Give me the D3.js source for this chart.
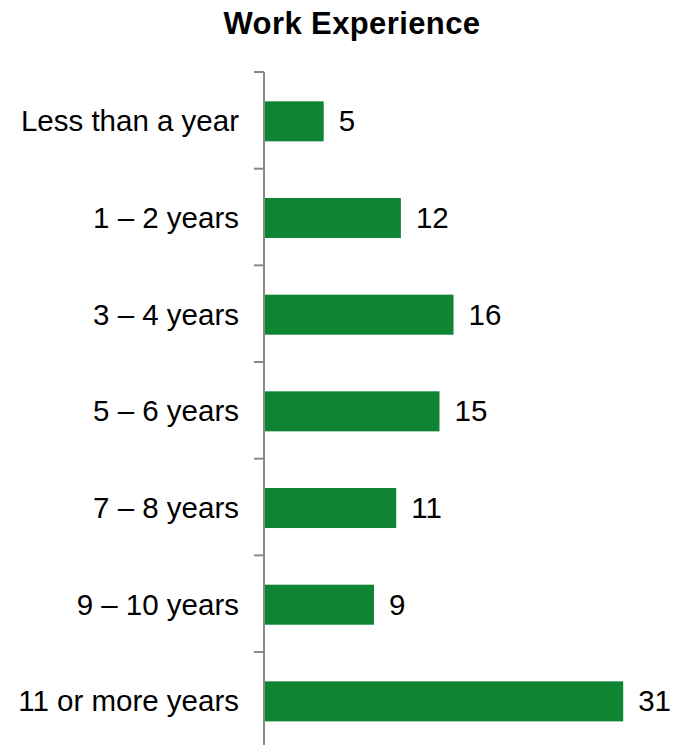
<!DOCTYPE html>
<html>
<head>
<meta charset="utf-8">
<script src="https://cdn.jsdelivr.net/npm/d3@7"></script>
<style>
  body { margin: 0; background: #fff; }
  text { font-family: "Liberation Sans", Arial, sans-serif; fill: #000; }
</style>
</head>
<body>
<svg id="chart" width="684" height="745"></svg>
<script>
// categories and values (percent)
const categories = ["Less than a year", "1 \u2013 2 years", "3 \u2013 4 years", "5 \u2013 6 years",
                    "7 \u2013 8 years", "9 \u2013 10 years", "11 or more years"];
const values = [5.1, 11.7, 16.2, 15.0, 11.3, 9.4, 30.7];
const title = "Work Experience";

const data = categories.map((c, i) => ({ cat: c, val: values[i] }));

// scales
function make_scales() {
  return {
    y: d3.scaleBand()
      .domain(categories)
      .range([72, 748.7])
      .padding(0),
    x: d3.scaleLinear()
      .domain([0, 35])
      .range([264, 264 + 35 * 11.7])
  }
}
let scales = make_scales();
const svg = d3.select("#chart");
const barH = scales.y.bandwidth() * 0.414;

// title
svg.append("text")
  .attr("x", 352)
  .attr("y", 34)
  .attr("text-anchor", "middle")
  .style("font-size", "31px")
  .style("font-weight", "bold")
  .style("letter-spacing", "0.4px")
  .text(title);

// bars
svg.append("g")
  .selectAll("rect")
  .data(data).enter()
  .append("rect")
  .attr("x", scales.x(0))
  .attr("y", d => scales.y(d.cat) + scales.y.bandwidth() / 2 - barH / 2 + 1)
  .attr("width", d => scales.x(d.val) - scales.x(0))
  .attr("height", barH)
  .attr("fill", "#0f8432");

// axis line + ticks at band boundaries
const axis = svg.append("g").attr("stroke", "#898989").attr("stroke-width", 2);
axis.append("line")
  .attr("x1", scales.x(0)).attr("x2", scales.x(0))
  .attr("y1", scales.y.range()[0]).attr("y2", scales.y.range()[1]);
axis.selectAll("line.tick")
  .data(categories).enter()
  .append("line")
  .attr("class", "tick")
  .attr("x1", scales.x(0) - 10).attr("x2", scales.x(0))
  .attr("y1", d => scales.y(d)).attr("y2", d => scales.y(d));

// category labels
svg.append("g")
  .selectAll("text")
  .data(data).enter()
  .append("text")
  .attr("x", 239)
  .attr("y", d => scales.y(d.cat) + scales.y.bandwidth() / 2 + 11)
  .attr("text-anchor", "end")
  .style("font-size", "29.5px")
  .text(d => d.cat);

// value labels
svg.append("g")
  .selectAll("text")
  .data(data).enter()
  .append("text")
  .attr("x", d => scales.x(d.val) + 15)
  .attr("y", d => scales.y(d.cat) + scales.y.bandwidth() / 2 + 11)
  .style("font-size", "29.5px")
  .text(d => d3.format(".0f")(d.val));
</script>
</body>
</html>
